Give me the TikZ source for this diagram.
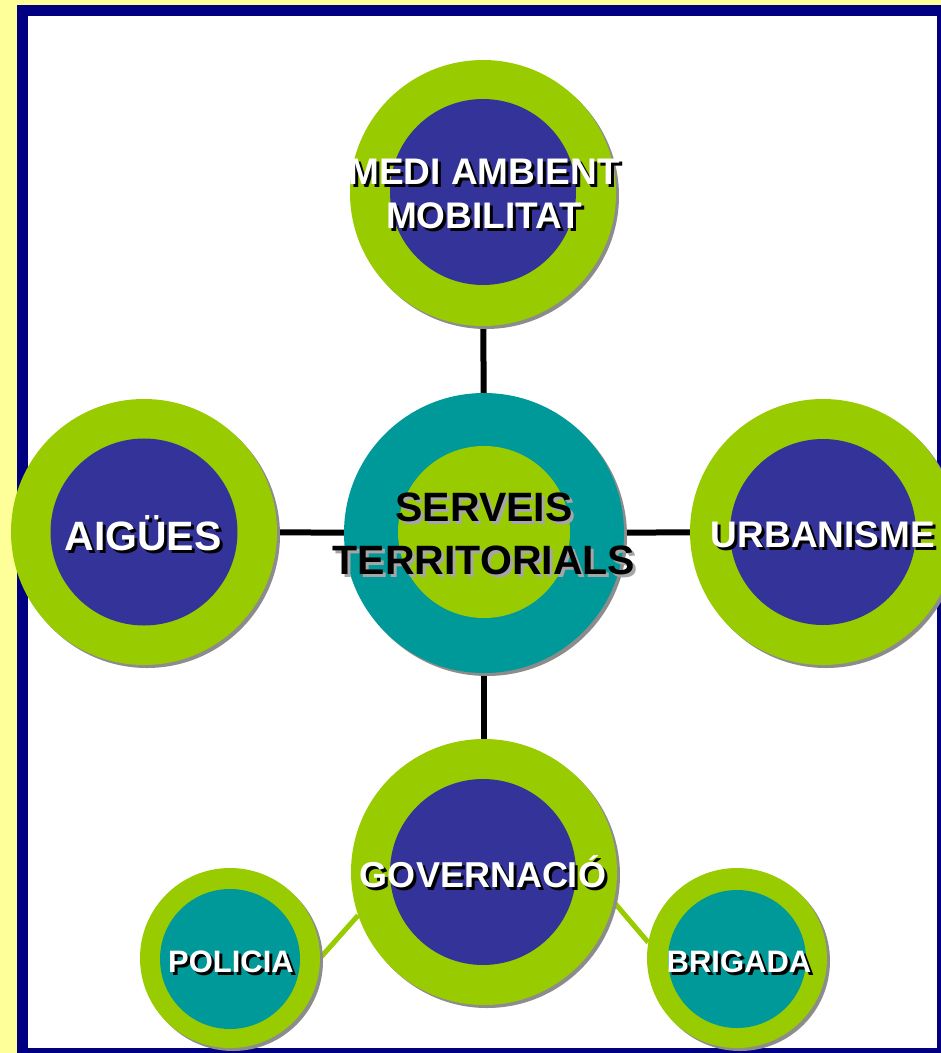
\documentclass[tikz,border=0pt]{standalone}
\usepackage{fontspec}
\setmainfont{Liberation Sans}
\usetikzlibrary{shadows,backgrounds,calc}
\definecolor{lime}{HTML}{99CC00}
\definecolor{navyin}{HTML}{333399}
\definecolor{tealc}{HTML}{009999}
\definecolor{framenavy}{HTML}{000080}
\definecolor{paleyellow}{HTML}{FFFF99}
\tikzset{
  ring/.style={circle, inner sep=0pt, draw=none, fill=lime,
    drop shadow={shadow xshift=3pt, shadow yshift=-3pt, fill=black!45, opacity=1}},
  core/.style={circle, inner sep=0pt, draw=none},
  lbl/.style={inner sep=0pt, align=center},
  link/.style={line width=6pt, black},
  sublink/.style={line width=5pt, lime},
}
% #1 name, #2 position, #3 anchor, #4 font size, #5 line skip, #6 text colour, #7 shadow colour, #8 text
\newcommand\shtext[8]{%
  \node[lbl, anchor=#3, text=#7, font=\fontsize{#4}{#5}\selectfont\bfseries] at ($(#2)+(3,3)$) {#8};
  \node[lbl, anchor=#3, text=#6, font=\fontsize{#4}{#5}\selectfont\bfseries] (#1) at (#2) {#8};
}
\begin{document}
\begin{tikzpicture}[x=1pt,y=-1pt]
\useasboundingbox (0,0) rectangle (941,1053);
% circles
\node[ring, minimum size=266pt] (top) at (483,193) {};
\node[core, fill=navyin, minimum size=186pt] (topc) at (483,192) {};
\node[ring, fill=tealc, minimum size=280pt] (hub) at (484,533) {};
\node[core, fill=lime, minimum size=172pt] (hubc) at (484,532) {};
\node[ring, minimum size=266pt] (left) at (144,532) {};
\node[core, fill=navyin, minimum size=187pt] (leftc) at (144,532) {};
\node[ring, minimum size=266pt] (right) at (823,532) {};
\node[core, fill=navyin, minimum size=186pt] (rightc) at (823,532) {};
\node[ring, minimum size=266pt] (gov) at (484,872) {};
\node[core, fill=navyin, minimum size=186pt] (govc) at (483,872) {};
\node[ring, minimum size=180pt] (pol) at (230,958) {};
\node[core, fill=tealc, minimum size=140pt] (polc) at (230,959) {};
\node[ring, minimum size=180pt] (brig) at (737,958) {};
\node[core, fill=tealc, minimum size=138pt] (brigc) at (737,959) {};
% background, frame and connectors
\begin{scope}[on background layer]
  \fill[paleyellow] (0,0) rectangle (941,1053);
  \draw[framenavy, fill=white, line width=11pt] (22.5,10.5) rectangle (942.5,1053.5);
  \draw[link] (hub) -- (top);
  \draw[link] (hub) -- (left);
  \draw[link] (hub) -- (right);
  \draw[link] (hub) -- (gov);
  \draw[sublink] (gov.199) -- (pol.0);
  \draw[sublink] (gov.-13) -- (brig.170);
\end{scope}
% labels
\shtext{tlbl}{484,194}{center}{37}{44}{white}{black}{MEDI AMBIENT\\MOBILITAT}
\shtext{hlbl}{484,534}{center}{41}{53}{black}{black!35}{SERVEIS\\TERRITORIALS}
\shtext{llbl}{143,550}{base}{41}{48}{white}{black}{AIGÜES}
\shtext{rlbl}{823,547}{base}{37}{44}{white}{black}{URBANISME}
\shtext{glbl}{483,887}{base}{36}{43}{white}{black}{GOVERNACIÓ}
\shtext{plbl}{231,972}{base}{31}{37}{white}{black}{POLICIA}
\shtext{blbl}{739,972}{base}{31}{37}{white}{black}{BRIGADA}
\end{tikzpicture}
\end{document}
